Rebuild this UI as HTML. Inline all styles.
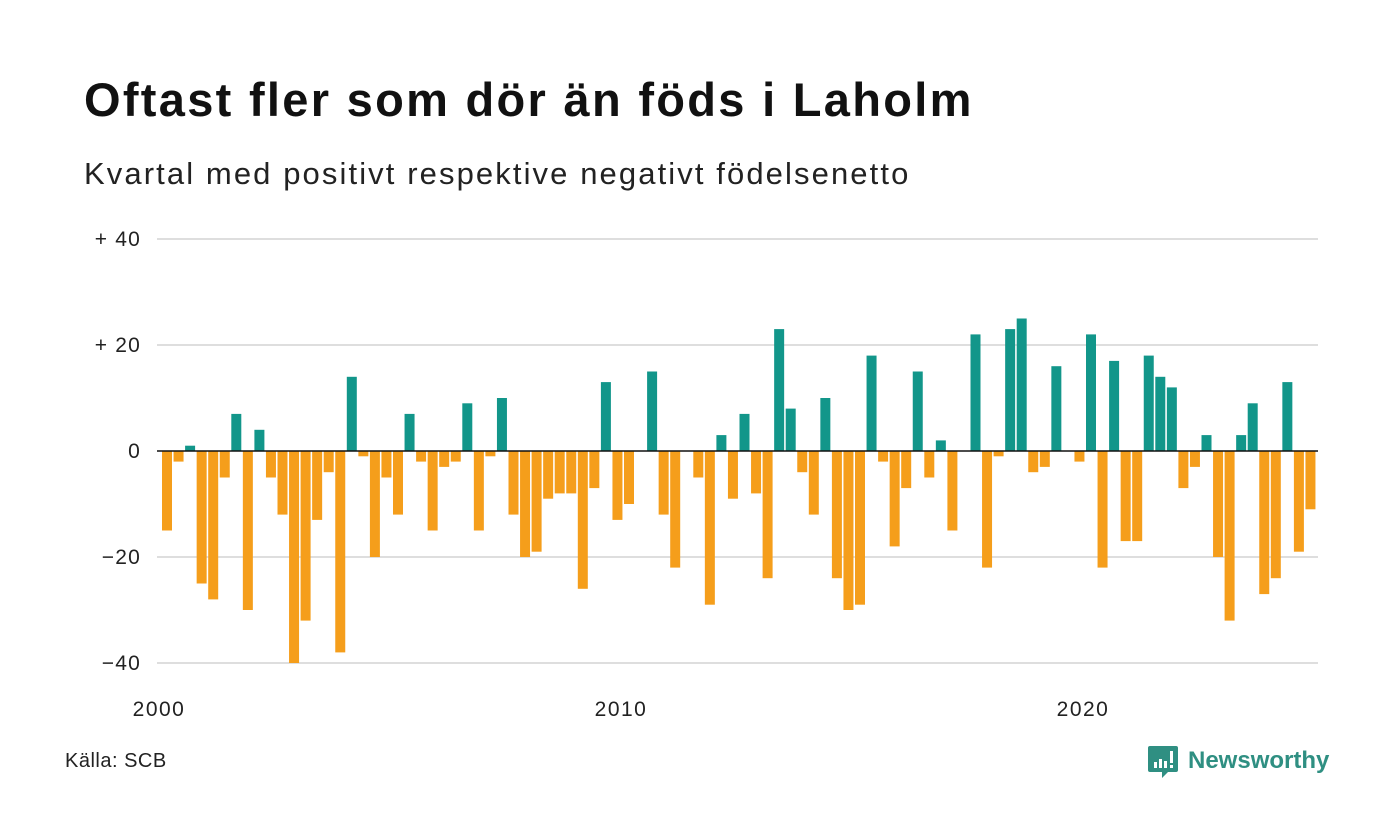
<!DOCTYPE html>
<html><head><meta charset="utf-8"><style>
body{margin:0;background:#fff;width:1400px;height:840px;overflow:hidden;font-family:"Liberation Sans",sans-serif;}
#title{position:absolute;left:84px;top:72px;font-size:47px;letter-spacing:2.3px;font-weight:bold;color:#111;margin:0;}
#sub{position:absolute;left:84px;top:156px;font-size:31px;letter-spacing:2.1px;color:#222;}
#src{position:absolute;left:65px;top:750px;font-size:20px;letter-spacing:0.5px;color:#222;}
svg{position:absolute;left:0;top:0;}
</style></head><body>
<h1 id="title">Oftast fler som dör än föds i Laholm</h1>
<div id="sub">Kvartal med positivt respektive negativt födelsenetto</div>
<div id="src">Källa: SCB</div>
<svg id="chart" width="1400" height="840"></svg>
<script>
const values=[-15,-2,1,-25,-28,-5,7,-30,4,-5,-12,-40,-32,-13,-4,-38,14,-1,-20,-5,-12,7,-2,-15,-3,-2,9,-15,-1,10,-12,-20,-19,-9,-8,-8,-26,-7,13,-13,-10,0,15,-12,-22,0,-5,-29,3,-9,7,-8,-24,23,8,-4,-12,10,-24,-30,-29,18,-2,-18,-7,15,-5,2,-15,0,22,-22,-1,23,25,-4,-3,16,0,-2,22,-22,17,-17,-17,18,14,12,-7,-3,3,-20,-32,3,9,-27,-24,13,-19,-11];
const yTicks=[40,20,0,-20,-40];
const yTickLabels=["+ 40","+ 20","0","\u221220","\u221240"];
const xTicks=[2000,2010,2020];
const NS="http://www.w3.org/2000/svg";
const svg=document.getElementById('chart');
const x=yr=>159+(yr-2000)*46.2;
const y=v=>451-v*5.3;
function mk(t,a){const e=document.createElementNS(NS,t);for(const k in a)e.setAttribute(k,a[k]);svg.appendChild(e);return e;}
yTicks.forEach((t,i)=>{
  if(t!==0){const g=mk('line',{x1:157,x2:1318,y1:y(t),y2:y(t),stroke:'#dedede','stroke-width':2});
  
  }
  const l=mk('text',{x:141,y:y(t)+7,'text-anchor':'end','font-size':21,'letter-spacing':1.2,fill:'#222','font-family':'Liberation Sans, sans-serif'});
  l.textContent=yTickLabels[i];
  
  
});
values.forEach((v,i)=>{
  const x0=x(2000+i/4)+3;
  const r=mk('rect',{x:x0,y:v>=0?y(v):y(0),width:10,height:Math.abs(y(v)-y(0)),fill:v>=0?'#12968a':'#f59e1b'});
  
  
});
const z=mk('line',{x1:157,x2:1318,y1:y(0),y2:y(0),stroke:'#111','stroke-width':1.5});


xTicks.forEach(t=>{
  const l=mk('text',{x:x(t),y:716,'text-anchor':'middle','font-size':21,'letter-spacing':1.5,fill:'#222','font-family':'Liberation Sans, sans-serif'});
  l.textContent=t;
  
  
});
const g=document.createElementNS(NS,'g');svg.appendChild(g);


g.innerHTML='<path d="M1150 746h26q2 0 2 2v22q0 2-2 2h-8l-6 6v-6h-12q-2 0-2-2v-22q0-2 2-2z" fill="#2f8f82"/><rect x="1154" y="762" width="3" height="6" fill="#fff"/><rect x="1159" y="759" width="3" height="9" fill="#fff"/><rect x="1164" y="761" width="3" height="7" fill="#fff"/><rect x="1170" y="751" width="3" height="12" fill="#fff"/><rect x="1170" y="765" width="3" height="3" fill="#fff"/><text x="1188" y="768" font-size="24" font-weight="bold" fill="#2f8f82" font-family="Liberation Sans, sans-serif">Newsworthy</text>';
</script>
</body></html>
